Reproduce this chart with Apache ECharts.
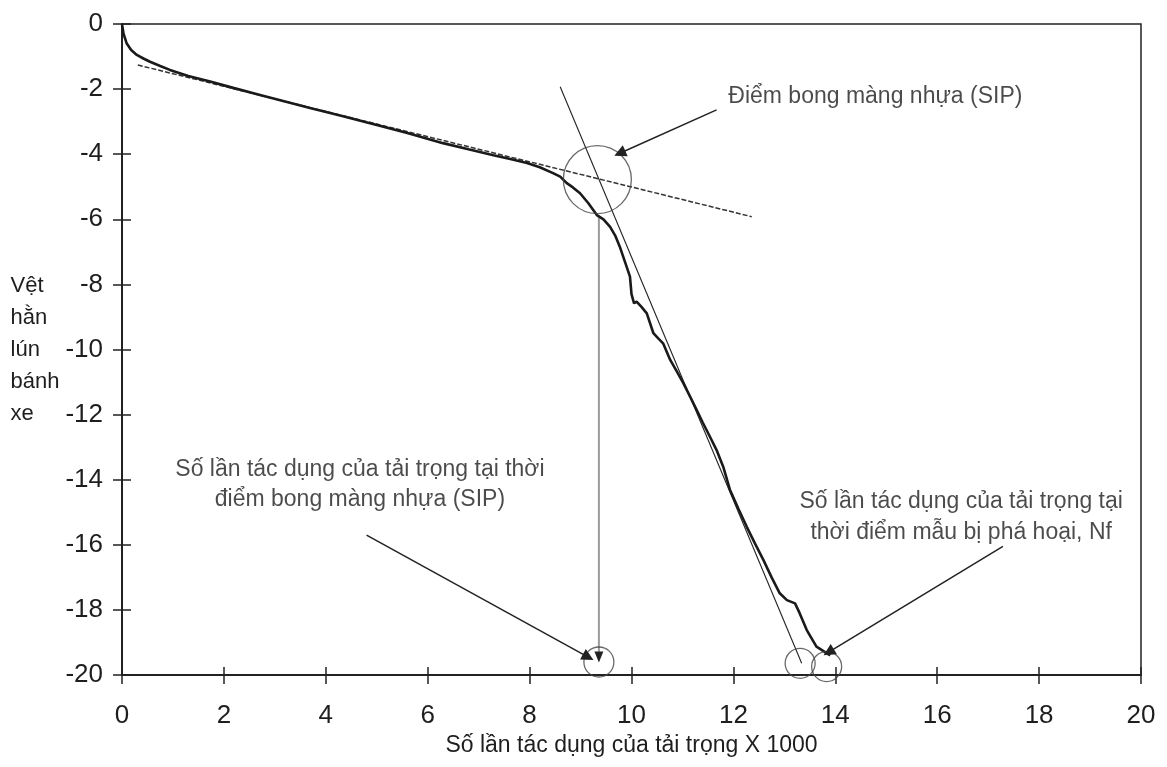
<!DOCTYPE html>
<html>
<head>
<meta charset="utf-8">
<script src="https://cdn.jsdelivr.net/npm/echarts@6/dist/echarts.min.js"></script>
<style>html,body{margin:0;padding:0;background:#fff}#c{width:1167px;height:767px}</style>
</head>
<body>
<div id="c"></div>
<script>
// Measured rut depth curve (x in thousands of load passes, y in mm)
const curveX = [0, 0.03, 0.09, 0.18, 0.29, 0.42, 0.55, 0.75, 0.94, 1.3, 1.73, 2.2, 2.71, 3.2, 3.69, 4.3, 5.0, 5.6, 6.3, 6.8, 7.29, 7.6, 7.95, 8.2, 8.46, 8.6, 8.73, 8.85, 8.99, 9.15, 9.32, 9.45, 9.58, 9.68, 9.77, 9.87, 9.97, 10.0, 10.05, 10.1, 10.2, 10.3, 10.43, 10.52, 10.62, 10.76, 10.9, 11.02, 11.15, 11.28, 11.4, 11.54, 11.67, 11.8, 11.93, 12.1, 12.26, 12.42, 12.59, 12.75, 12.91, 13.05, 13.21, 13.3, 13.44, 13.63, 13.83, 13.9];
const curveY = [0, -0.3, -0.59, -0.8, -0.95, -1.06, -1.16, -1.29, -1.41, -1.6, -1.77, -1.97, -2.18, -2.38, -2.58, -2.82, -3.1, -3.35, -3.66, -3.85, -4.03, -4.14, -4.27, -4.4, -4.58, -4.69, -4.89, -5.02, -5.2, -5.5, -5.87, -6.0, -6.23, -6.5, -6.84, -7.3, -7.76, -8.3, -8.58, -8.53, -8.7, -8.89, -9.5, -9.65, -9.81, -10.32, -10.7, -11.04, -11.45, -11.86, -12.25, -12.68, -13.09, -13.6, -14.3, -14.9, -15.44, -15.95, -16.47, -17.0, -17.49, -17.7, -17.8, -18.1, -18.62, -19.13, -19.33, -19.4];

// Tangent lines
const flatTangent = [[0.31, -1.26], [12.36, -5.92]];
const steepTangent = [[8.6, -1.93], [13.34, -19.64]];
// Vertical projection from SIP down to x-axis
const sipDrop = [[9.36, -5.87], [9.36, -19.45]];

// Circles
const bigCircles = [[9.33, -4.78]];
const smallCircles = [[9.36, -19.6], [13.31, -19.64], [13.83, -19.74]];

// Annotation arrows (from, to)
const arrows = [
  [[11.67, -2.64], [9.77, -3.97]],
  [[4.8, -15.7], [9.15, -19.45]],
  [[17.29, -16.05], [13.87, -19.3]]
];

// Annotation texts
const noteSip = {pos: [11.89, -2.24], text: 'Điểm bong màng nhựa (SIP)'};
const noteLeft = {pos: [4.67, -14.16], text: 'Số lần tác dụng của tải trọng tại thời\nđiểm bong màng nhựa (SIP)'};
const noteRight = {pos: [16.47, -15.16], text: 'Số lần tác dụng của tải trọng tại\nthời điểm mẫu bị phá hoại, Nf'};

const xTitle = 'Số lần tác dụng của tải trọng X 1000';
const yTitle = 'Vệt\nhằn\nlún\nbánh\nxe';

const FONT = '"Liberation Sans", Arial, sans-serif';
const TXT = '#1e1e1e';

const chart = echarts.init(document.getElementById('c'), null, {renderer: 'canvas'});

const option = {
  backgroundColor: '#fff',
  animation: false,
  grid: {left: 122, right: 26, top: 24, bottom: 92, show: true, borderColor: '#222', borderWidth: 1.5, backgroundColor: 'transparent'},
  xAxis: [
    {
      type: 'value', min: 0, max: 20, interval: 2,
      axisLine: {show: true, onZero: false, lineStyle: {color: '#222', width: 2}},
      axisTick: {show: true, inside: false, length: 9, lineStyle: {color: '#222', width: 1.5}},
      axisLabel: {fontSize: 26, fontFamily: FONT, color: TXT, margin: 28},
      splitLine: {show: false},
      name: xTitle, nameLocation: 'middle', nameGap: 59,
      nameTextStyle: {fontSize: 23, fontFamily: FONT, color: TXT}
    },
    {
      type: 'value', min: 0, max: 20, interval: 2, position: 'bottom',
      axisLine: {show: false, onZero: false},
      axisTick: {show: true, inside: true, length: 8, lineStyle: {color: '#222', width: 1.5}},
      axisLabel: {show: false}, splitLine: {show: false}
    }
  ],
  yAxis: [
    {
      type: 'value', min: -20, max: 0, interval: 2,
      axisLine: {show: true, onZero: false, lineStyle: {color: '#222', width: 2}},
      axisTick: {show: true, inside: false, length: 9, lineStyle: {color: '#222', width: 1.5}},
      axisLabel: {fontSize: 26, fontFamily: FONT, color: TXT, margin: 19},
      splitLine: {show: false},
      name: yTitle, nameLocation: 'middle', nameGap: 106, nameRotate: 0,
      nameTextStyle: {fontSize: 22, fontFamily: FONT, color: TXT, align: 'left', verticalAlign: 'middle', lineHeight: 32, padding: [0, 0, 23, 0]}
    },
    {
      type: 'value', min: -20, max: 0, interval: 2, position: 'left',
      axisLine: {show: false, onZero: false},
      axisTick: {show: true, inside: true, length: 9, lineStyle: {color: '#222', width: 1.5}},
      axisLabel: {show: false}, splitLine: {show: false}
    }
  ],
  series: [
    {
      type: 'line', name: 'flat', data: flatTangent, showSymbol: false, symbol: 'none',
      lineStyle: {color: '#333', width: 1.5, type: [5, 2]}, z: 3
    },
    {
      type: 'line', name: 'steep', data: steepTangent, showSymbol: false, symbol: 'none',
      lineStyle: {color: '#222', width: 1.1}, z: 3
    },
    {
      type: 'line', name: 'drop', data: sipDrop, showSymbol: false, symbol: 'none',
      lineStyle: {color: '#9a9a9a', width: 2}, z: 2
    },
    {
      type: 'line', name: 'curve', data: curveX.map((x, i) => [x, curveY[i]]),
      showSymbol: false, symbol: 'none', smooth: false,
      lineStyle: {color: '#1a1a1a', width: 2.6}, z: 4
    },
    {
      type: 'scatter', name: 'bigCircle', data: bigCircles, symbol: 'circle', symbolSize: 68,
      itemStyle: {color: 'rgba(0,0,0,0)', borderColor: '#444', borderWidth: 1.3}, z: 5, silent: true
    },
    {
      type: 'scatter', name: 'smallCircles', data: smallCircles, symbol: 'circle', symbolSize: 30,
      itemStyle: {color: 'rgba(0,0,0,0)', borderColor: '#444', borderWidth: 1.3}, z: 5, silent: true
    },
    {
      type: 'lines', coordinateSystem: 'cartesian2d', name: 'arrows',
      data: arrows.map(a => ({coords: a})),
      symbol: ['none', 'triangle'], symbolSize: [1, 12],
      lineStyle: {color: '#222', width: 1.5, opacity: 1}, z: 6
    },
    {
      type: 'line', name: 'sipArrow', data: [sipDrop[1]], showSymbol: true,
      symbol: 'triangle', symbolSize: [9, 11], symbolRotate: 180,
      itemStyle: {color: '#222'}, lineStyle: {width: 0}, z: 6
    },
    {
      type: 'scatter', name: 'notes', symbolSize: 1, itemStyle: {color: 'rgba(0,0,0,0)'}, z: 7, silent: true,
      data: [
        {value: noteSip.pos, label: {show: true, formatter: noteSip.text, position: 'right', distance: 0, align: 'left', verticalAlign: 'middle'}},
        {value: noteLeft.pos, label: {show: true, formatter: noteLeft.text, position: 'inside', align: 'center', verticalAlign: 'middle', lineHeight: 30}},
        {value: noteRight.pos, label: {show: true, formatter: noteRight.text, position: 'inside', align: 'center', verticalAlign: 'middle', lineHeight: 31}}
      ],
      label: {fontSize: 23, fontFamily: FONT, color: TXT}
    }
  ]
};
chart.setOption(option);
</script>
</body>
</html>
